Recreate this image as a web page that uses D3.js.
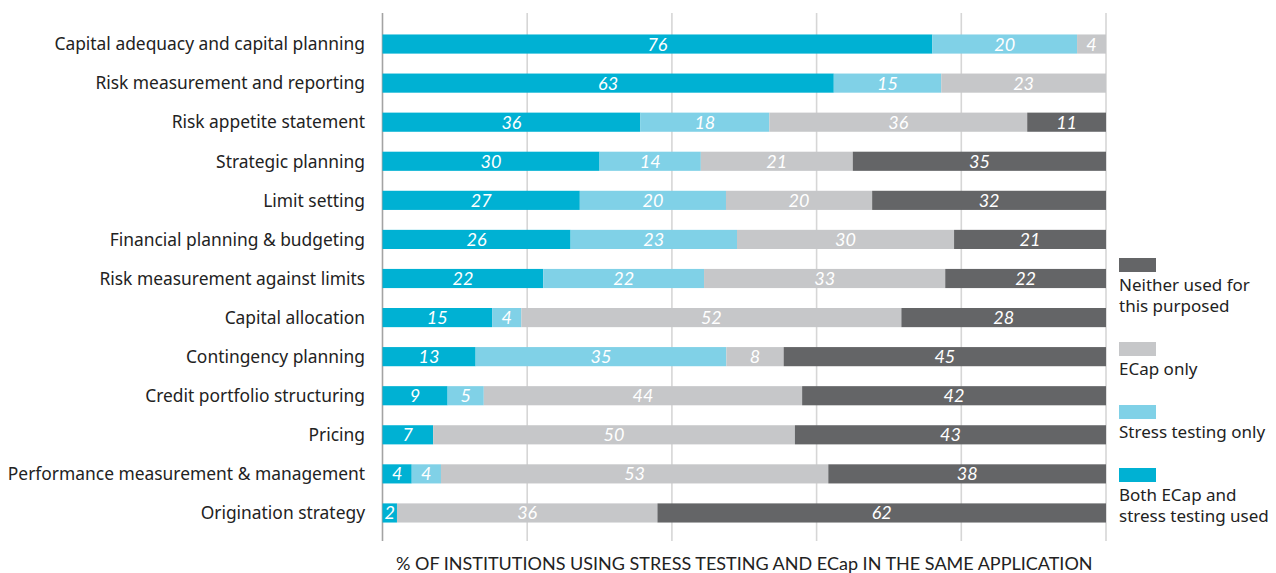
<!DOCTYPE html>
<html>
<head>
<meta charset="utf-8">
<script src="https://cdn.jsdelivr.net/npm/d3@7"></script>
<style>
  body { margin: 0; background: #fff; }
  svg { display: block; }
</style>
</head>
<body>
<div id="chart"></div>
<script>
// chart data
var categories = [
  'Capital adequacy and capital planning',
  'Risk measurement and reporting',
  'Risk appetite statement',
  'Strategic planning',
  'Limit setting',
  'Financial planning & budgeting',
  'Risk measurement against limits',
  'Capital allocation',
  'Contingency planning',
  'Credit portfolio structuring',
  'Pricing',
  'Performance measurement & management',
  'Origination strategy'
];
var bothUsed    = [76, 63, 36, 30, 27, 26, 22, 15, 13, 9, 7, 4, 2];
var stressOnly  = [20, 15, 18, 14, 20, 23, 22, 4, 35, 5, 0, 4, 0];
var ecapOnly    = [4, 23, 36, 21, 20, 30, 33, 52, 8, 44, 50, 53, 36];
var neitherUsed = [0, 0, 11, 35, 32, 21, 22, 28, 45, 42, 43, 38, 62];
var xTicks = [0, 20, 40, 60, 80, 100];
var axisTitle = '% OF INSTITUTIONS USING STRESS TESTING AND ECap IN THE SAME APPLICATION';

var colors = ['#00b1d3', '#80d1e7', '#c6c7c9', '#646567'];

var width = 1276, height = 573;
var plotLeft = 382.5, plotRight = 1106, plotTop = 24.5, plotBottom = 532.5;

var svg = d3.select('#chart').append('svg')
  .attr('width', width)
  .attr('height', height);

var x = d3.scaleLinear().domain([0, 100]).range([plotLeft, plotRight]);
var y = d3.scaleBand().domain(categories).range([plotTop, plotBottom]).paddingInner(0.51).paddingOuter(0.255);

// grid lines
svg.append('g').selectAll('line')
  .data(xTicks)
  .join('line')
  .attr('x1', function (d) { return x(d); })
  .attr('x2', function (d) { return x(d); })
  .attr('y1', 13)
  .attr('y2', 541)
  .attr('stroke', function (d) { return d === 0 ? '#a3a3a3' : '#d6d6d6'; })
  .attr('stroke-width', 1.6);

// build rows, normalised to 100%
var rows = categories.map(function (c, i) {
  var vals = [bothUsed[i], stressOnly[i], ecapOnly[i], neitherUsed[i]];
  var total = d3.sum(vals);
  var acc = 0;
  return vals.map(function (v, k) {
    var seg = { cat: c, k: k, v: v, x0: acc / total * 100, x1: (acc + v) / total * 100 };
    acc += v;
    return seg;
  }).filter(function (s) { return s.v > 0; });
});
var segs = [].concat.apply([], rows);

svg.append('g').selectAll('rect')
  .data(segs)
  .join('rect')
  .attr('x', function (d) { return x(d.x0); })
  .attr('width', function (d) { return x(d.x1) - x(d.x0); })
  .attr('y', function (d) { return y(d.cat); })
  .attr('height', y.bandwidth())
  .attr('fill', function (d) { return colors[d.k]; });

svg.append('g').selectAll('text')
  .data(segs)
  .join('text')
  .attr('x', function (d) { return (x(d.x0) + x(d.x1)) / 2; })
  .attr('y', function (d) { return y(d.cat) + y.bandwidth() / 2; })
  .attr('dy', '0.36em')
  .attr('text-anchor', 'middle')
  .attr('fill', '#fff')
  .style('font-family', 'Lato, "Open Sans", sans-serif')
  .style('font-style', 'italic')
  .style('font-size', '18px')
  .text(function (d) { return d.v; });

// category labels
svg.append('g').selectAll('text')
  .data(categories)
  .join('text')
  .attr('x', 365)
  .attr('y', function (d) { return y(d) + y.bandwidth() / 2; })
  .attr('dy', '0.36em')
  .attr('text-anchor', 'end')
  .attr('fill', '#222')
  .style('font-family', '"Noto Sans", sans-serif')
  .style('font-size', '17.4px')
  .text(function (d) { return d; });

// axis title
svg.append('text')
  .attr('x', (plotLeft + plotRight) / 2)
  .attr('y', 570)
  .attr('text-anchor', 'middle')
  .attr('fill', '#222')
  .style('font-family', 'Lato, sans-serif')
  .style('font-size', '18px')
  .text(axisTitle);

// legend, top to bottom is reverse series order
var legendItems = [
  { k: 3, y: 258, lines: ['Neither used for', 'this purposed'] },
  { k: 2, y: 342, lines: ['ECap only'] },
  { k: 1, y: 405, lines: ['Stress testing only'] },
  { k: 0, y: 468, lines: ['Both ECap and', 'stress testing used'] }
];
var lg = svg.append('g').selectAll('g')
  .data(legendItems)
  .join('g')
  .attr('transform', function (d) { return 'translate(1119,' + d.y + ')'; });

lg.append('rect')
  .attr('width', 37)
  .attr('height', 14)
  .attr('fill', function (d) { return colors[d.k]; });

lg.selectAll('text')
  .data(function (d) { return d.lines; })
  .join('text')
  .attr('x', 0)
  .attr('y', function (d, i) { return 33 + i * 21; })
  .attr('fill', '#222')
  .style('font-family', '"Noto Sans", sans-serif')
  .style('font-size', '17px')
  .text(function (d) { return d; });
</script>
</body>
</html>
